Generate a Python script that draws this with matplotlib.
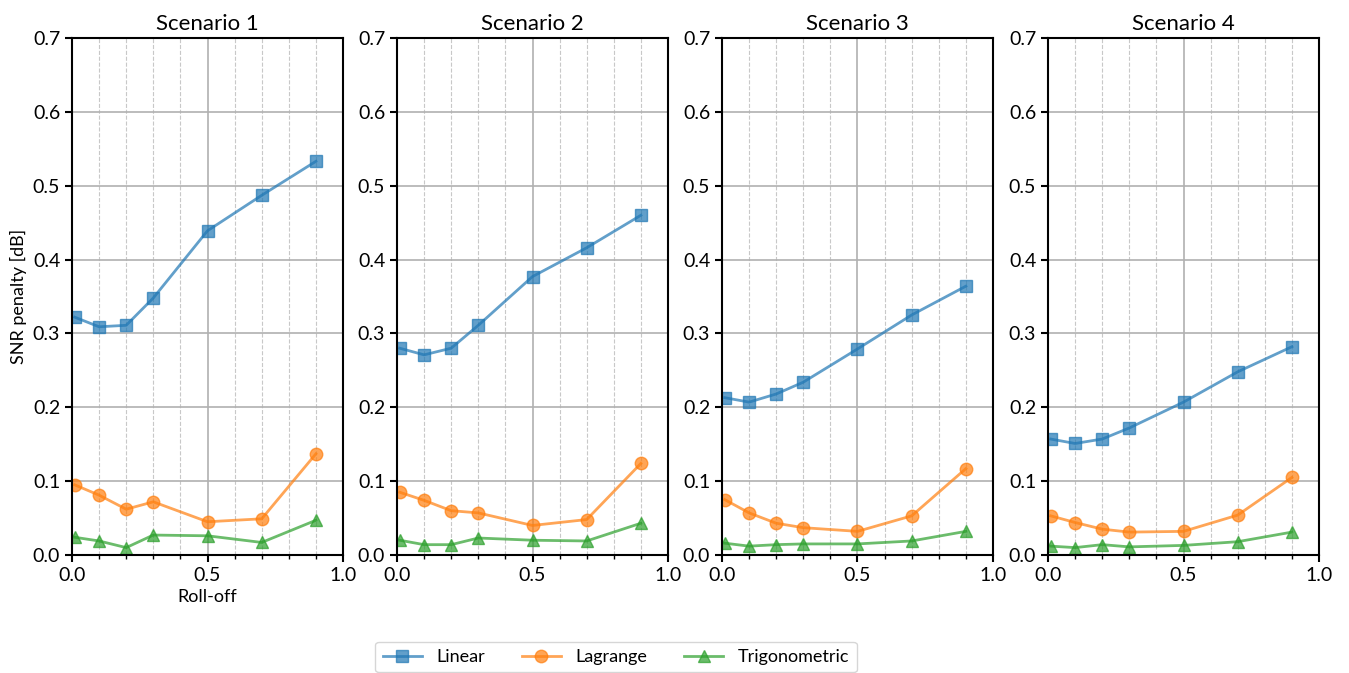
import numpy as np
import matplotlib
matplotlib.use("Agg")
import matplotlib.pyplot as plt
from matplotlib.ticker import MultipleLocator

plt.rcParams['font.family'] = ['Lato', 'DejaVu Sans']
plt.rcParams['font.size'] = 13

roll_off = [0.01, 0.1, 0.2, 0.3, 0.5, 0.7, 0.9]
scenarios = ["Scenario 1", "Scenario 2", "Scenario 3", "Scenario 4"]

linear = [
    [0.322, 0.309, 0.311, 0.348, 0.439, 0.487, 0.533],
    [0.280, 0.271, 0.280, 0.311, 0.377, 0.416, 0.460],
    [0.213, 0.207, 0.218, 0.234, 0.279, 0.325, 0.364],
    [0.157, 0.151, 0.157, 0.172, 0.207, 0.248, 0.282],
]
lagrange = [
    [0.095, 0.081, 0.062, 0.072, 0.045, 0.049, 0.137],
    [0.085, 0.074, 0.060, 0.057, 0.040, 0.048, 0.124],
    [0.075, 0.057, 0.043, 0.037, 0.032, 0.053, 0.117],
    [0.053, 0.044, 0.035, 0.031, 0.032, 0.054, 0.105],
]
trigonometric = [
    [0.024, 0.019, 0.010, 0.027, 0.026, 0.017, 0.047],
    [0.020, 0.014, 0.014, 0.023, 0.020, 0.019, 0.043],
    [0.016, 0.012, 0.014, 0.015, 0.015, 0.019, 0.032],
    [0.012, 0.010, 0.014, 0.011, 0.013, 0.018, 0.031],
]

series = [
    ("Linear", linear, "#1f77b4", "s"),
    ("Lagrange", lagrange, "#ff7f0e", "o"),
    ("Trigonometric", trigonometric, "#2ca02c", "^"),
]

fig = plt.figure(figsize=(13.49, 6.73), dpi=100)
lefts = [72, 397, 722, 1048]
W, H = 1349, 673
ax_w = 271
top, bottom = 38, 555

axes = []
for i, name in enumerate(scenarios):
    ax = fig.add_axes([lefts[i] / W, 1 - bottom / H, ax_w / W, (bottom - top) / H])
    axes.append(ax)
    for label, data, color, marker in series:
        ax.plot(roll_off, data[i], color=color, marker=marker, markersize=9,
                linewidth=2, alpha=0.7, label=label)
    ax.set_xlim(0, 1)
    ax.set_ylim(0, 0.7)
    ax.xaxis.set_major_locator(MultipleLocator(0.5))
    ax.xaxis.set_minor_locator(MultipleLocator(0.1))
    ax.yaxis.set_major_locator(MultipleLocator(0.1))
    ax.grid(which='major', color='#b0b0b0', linewidth=1.2)
    ax.grid(which='minor', axis='x', color='#c8c8c8', linestyle='--', linewidth=0.8)
    ax.set_axisbelow(True)
    for sp in ax.spines.values():
        sp.set_linewidth(1.5)
    ax.tick_params(which='major', length=5, width=1.5, labelsize=14)
    ax.tick_params(which='minor', length=3, width=1.0)
    ax.set_title(name, fontsize=16, pad=6)

axes[0].set_ylabel("SNR penalty [dB]", fontsize=13)
axes[0].set_xlabel("Roll-off", fontsize=13)

handles, labels = axes[0].get_legend_handles_labels()
fig.legend(handles, labels, loc='center', bbox_to_anchor=(616 / W, 1 - 657 / H),
           ncol=3, fontsize=13, frameon=True, handlelength=2.2,
           handletextpad=0.8, columnspacing=2.0)

fig.savefig("out.png", dpi=100)
